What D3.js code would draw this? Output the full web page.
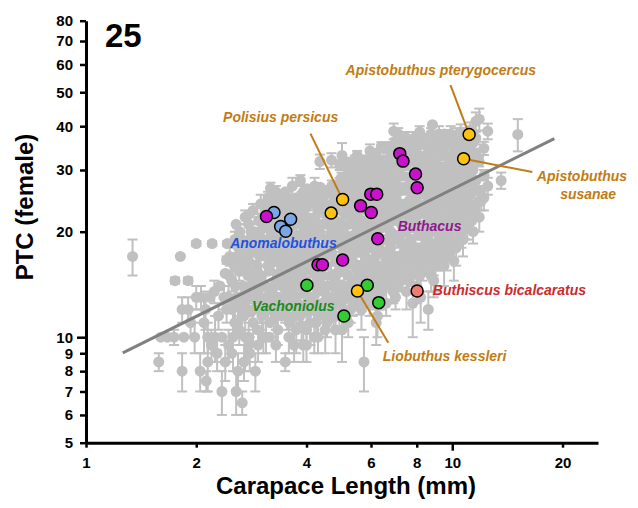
<!DOCTYPE html>
<html>
<head>
<meta charset="utf-8">
<script src="https://cdn.jsdelivr.net/npm/d3@7"></script>
<style>
  body { margin: 0; background: #fff; }
  svg { display: block; font-family: "Liberation Sans", Arial, Helvetica, sans-serif; }
</style>
</head>
<body>
<svg id="chart" width="638" height="508"></svg>
<script>
// Pectinal tooth count (females) against carapace length, log-log, Buthidae.

// Tick labels
const xTickValues = [1, 2, 4, 6, 8, 10, 20];
const yTickValues = [5, 6, 7, 8, 9, 10, 20, 30, 40, 50, 60, 70, 80];

// All other species: [carapace length (mm), mean PTC, SD of PTC]; SD 0 = single count
const otherSpecies = [
  [1.34,17,2],[1.81,17,0],[1.75,14.5,0.3],[1.9,14.5,0.3],[1.58,8.5,0.5],[1.6,10,0],[1.67,10,0],[1.74,10,0.5],
  [1.83,12,1],[1.9,12,1],[1.83,8,1],[1.85,10,0],[1.93,11,1],[1.98,10,1],[2.0,13,1],[2.0,18.5,0.3],
  [2.21,18.5,0.3],[2.43,18.5,0.3],[2.42,16.6,0.4],[2.4,15.2,0],[2.06,13,1],[2.12,12,1.5],[2.18,13,0],
  [2.24,13.5,1],[2.32,14,0],[2.38,13,1],[2.1,11,2],[2.15,10,1],[2.25,10,1.5],[2.35,10,0],[2.45,9.5,1],
  [2.2,9.5,1],[2.28,9,1],[2.15,8.5,1.5],[2.05,8,1],[2.13,7.5,0.5],[2.35,7,1],[2.4,8.5,1],[2.57,7,1],
  [2.6,8,1],[2.67,6.5,0.5],[2.5,9,0],[2.7,8.5,1],[2.8,9,1],[2.9,8,1],[2.52,10,2],[2.6,11,1],[2.72,10,2],
  [2.78,9.5,1],[2.95,9.5,1],[3.05,10,1],[3.17,10,0],[3.5,8.5,0.5],[4.0,9.5,1],[3.3,9.5,1],[2.3,11.5,1],[2.42,12,1],
  [2.45,13,1],[2.46,15,0],[2.47,17,1],
  [2.55,11,1],[2.55,12.5,0],[2.56,14,1.5],[2.54,16,0],[2.55,19,1],[2.57,21,0],
  [2.62,10.5,1],[2.63,13,0],[2.62,15.5,1],[2.61,18,0],[2.63,20,1],
  [2.7,11.5,0],[2.71,12.5,1],[2.69,14,0],[2.7,17,1],[2.72,22,1],
  [2.78,10,1],[2.79,13,1],[2.77,15,0],[2.78,16.5,0],[2.8,19,1.5],[2.78,21,0],
  [2.86,11,1.5],[2.87,12,0],[2.85,14.5,1],[2.86,18,0],[2.88,20,0],[2.86,23,1],
  [2.94,10.5,0],[2.95,13.5,1],[2.93,16,1],[2.94,17.5,0],[2.96,21.5,1],
  [3.02,11.5,1],[3.03,12.5,0],[3.01,15,1],[3.02,19,1],[3.04,22,0],[3.0,24,1.5],
  [3.1,10,1],[3.11,13,0],[3.09,14,1],[3.1,17,0],[3.12,20.5,1],[3.1,23,0],
  [3.18,11,0],[3.19,12,1],[3.17,15.5,0],[3.18,18,1],[3.2,21,0],[3.19,26.6,1],
  [3.26,12.5,1.5],[3.27,14,0],[3.25,16.5,1],[3.26,19.5,0],[3.28,22.5,1],[3.26,24.5,0],
  [3.34,10.5,1],[3.35,13,0],[3.33,15,1],[3.34,17.5,0],[3.36,20,1],[3.34,23.5,1],
  [3.42,11.5,0],[3.43,14,1],[3.41,16,0],[3.42,18.5,1],[3.44,21.5,0],[3.42,25,1],
  [3.5,12,1],[3.51,13.5,0],[3.49,15.5,1],[3.5,17,0],[3.52,19,1],[3.5,22,1],[3.5,26,0],
  [3.58,10,1],[3.59,11,0],[3.57,14.5,1],[3.58,16.5,0],[3.6,20.5,1],[3.58,24,1],
  [3.66,12.5,1],[3.67,15,0],[3.65,18,1],[3.66,19.5,0],[3.68,23,0],[3.66,27,1.5],
  [3.75,10.5,1.5],[3.76,13,1],[3.74,14,0],[3.75,16,1],[3.77,17.5,0],[3.75,21,1],[3.76,25,0],
  [3.84,11.5,0],[3.85,12,1],[3.83,15,1],[3.84,18.5,0],[3.86,22,1],[3.84,24,0],[3.85,28,1],
  [3.92,9.5,1],[3.93,13.5,1],[3.91,16.5,0],[3.92,19,1],[3.94,20.5,0],[3.92,26,1],
  [4.0,10.5,1],[4.01,12.5,0],[3.99,14.5,1],[4.0,17,1],[4.02,21.5,0],[4.0,23.5,1],[4.01,26.5,0],
  [4.1,11,1.5],[4.11,13,0],[4.09,15.5,1],[4.1,18,0],[4.12,20,1],[4.1,25,1],
  [4.2,12,1],[4.21,14,0],[4.19,16,1],[4.2,19,0],[4.22,22,1],[4.2,24,0],[4.21,27,1.5],
  [4.3,10,1],[4.31,11.5,0],[4.29,13.5,1],[4.3,17,0],[4.32,20.5,1],[4.3,23,1],[4.35,31.7,1.5],
  [4.42,12.5,1],[4.43,15,0],[4.41,18,1],[4.42,21,0],[4.44,25,1],
  [4.55,11,1],[4.56,14,1],[4.54,16,0],[4.55,19,1],[4.57,22,0],[4.55,26,1],
  [4.68,12,0],[4.69,13,1],[4.67,15,1],[4.68,17.5,0],[4.7,20,1],[4.68,24,0],[4.69,27,1],[4.68,32,1.5],
  [4.8,10.5,1.5],[4.81,12.5,1],[4.79,14.5,0],[4.8,16.5,1],[4.82,18.5,0],[4.8,21.5,1],[4.81,23,0],
  [4.92,11.5,1],[4.93,13.5,0],[4.91,15.5,1],[4.92,19,1],[4.94,25,0],[4.92,27.5,1],[4.93,31,1],
  [5.05,12,1.5],[5.06,14,1],[5.04,17,0],[5.05,20,1],[5.07,22.5,0],[5.05,26,1],[5.0,33,2.8],
  [5.2,11,1],[5.21,13,0],[5.19,15,1],[5.2,18,1],[5.22,21,0],[5.2,24,1],[5.21,28,1],[5.2,30,0],
  [5.35,12.5,1],[5.36,14.5,0],[5.34,16.5,1],[5.35,19.5,0],[5.37,23,1],[5.35,26.5,0],[5.36,31,1.5],
  [5.5,13,1],[5.51,15.5,1],[5.49,17.5,0],[5.5,20.5,1],[5.52,22,0],[5.5,25,1],[5.51,29,1],[5.5,33,1],
  [5.65,12,1.5],[5.66,14,0],[5.64,16,1],[5.65,18.5,1],[5.67,21.5,0],[5.65,24,1],[5.66,27.5,0],[5.65,30.5,1],
  [5.74,8.5,1.5],
  [5.8,13.5,1],[5.81,15,0],[5.79,17,1],[5.8,19.5,0],[5.82,23,1],[5.8,26,1],[5.81,32,1],
  [5.95,12.5,1],[5.96,14.5,1],[5.94,16.5,0],[5.95,20,1],[5.97,22,0],[5.95,28,1],[5.96,34,1.5],
  [6.1,13,1],[6.11,15.5,0],[6.09,18,1],[6.1,21,1],[6.12,24.5,0],[6.1,27,1],[6.11,30,0],
  [6.25,11.5,1.5],[6.26,14,1],[6.24,16,0],[6.25,19,1],[6.27,23,0],[6.25,25,1],[6.2,32.3,1],
  [6.4,13.5,1.5],[6.41,15,1],[6.39,17.5,0],[6.4,20.5,1],[6.42,22.5,0],[6.4,26.5,1],[6.41,29,1],[6.4,35,1],
  [6.6,12.5,1],[6.61,14.5,0],[6.59,16.5,1],[6.6,19,1],[6.62,21.5,0],[6.6,24,1],[6.61,28,0],[6.6,31,1],
  [6.8,14,1.5],[6.81,16,0],[6.79,18,1],[6.8,20,0],[6.82,23,1],[6.8,26,1],[6.81,30,0],[6.8,33,1],
  [6.92,38.7,2],
  [7.0,13,1],[7.01,15,1],[6.99,17,0],[7.0,22,1],[7.02,25,0],[7.0,27.5,1],[7.01,32,1],[7.0,36,1],
  [7.25,14.5,1],[7.26,16.5,0],[7.24,18.5,1],[7.25,21,1],[7.27,24,0],[7.25,29,1],[7.26,34,1],
  [7.5,13.5,1.5],[7.51,15.5,1],[7.49,17.5,0],[7.5,20,1],[7.52,23,1],[7.5,26.5,0],[7.51,31,1],[7.5,37,1.5],
  [7.75,15,1],[7.76,17,1],[7.74,19,0],[7.75,22,1],[7.77,25,1],[7.75,28,0],[7.76,33,1],
  [7.8,12.5,2.5],
  [8.0,14,1.5],[8.01,16,1],[7.99,18,0],[8.0,21,1],[8.02,24,0],[8.0,30,1],[8.01,35,1.5],
  [8.2,13,2],
  [8.3,15.5,1],[8.31,17.5,1],[8.29,20,0],[8.3,23,1],[8.32,26,1],[8.3,29,0],[8.31,32,1],[8.3,37,1],
  [8.6,12,1.5],[8.61,16.5,1],[8.59,19,1],[8.6,22,0],[8.62,25,1],[8.6,28,1],[8.61,34,1.5],
  [8.83,40.4,0],
  [8.9,16,1],[8.91,18,0],[8.89,21,1],[8.9,24,1],[8.92,27,0],[8.9,31,1],[8.91,36,1],[8.9,14.5,1.5],
  [9.0,16.5,3],
  [9.2,17,1.5],[9.21,19.5,1],[9.19,23,0],[9.2,26,1],[9.22,29.5,1],[9.2,33,1],[9.2,38,2],
  [9.5,16,2],[9.51,18.5,1],[9.49,21.5,1],[9.5,25,0],[9.52,28,1],[9.5,35,1.5],[9.51,38,1],
  [9.8,17.5,1],[9.81,20,1],[9.79,23.5,1],[9.8,27,0],[9.82,30,1],[9.8,32,1],[9.9,38,2],
  [10.1,16.5,2],[10.11,19,1],[10.09,22,1],[10.1,25.5,1],[10.12,29,0],[10.1,34,1],[10.2,35,3],
  [10.4,20.5,1.5],[10.41,24,1],[10.39,27,1],[10.4,31,1],[10.42,36,1.5],
  [10.6,20,2],[10.7,19,2],[10.71,22.5,1],[10.69,26,1],[10.7,29,1],[10.72,35,1],[10.9,36,2.5],
  [11.0,21,2],[11.01,24.5,1],[10.99,28,1],[11.0,33,1],[11.02,38,1.5],
  [11.3,21.5,1],[11.4,20,1.5],[11.41,23,1],[11.39,27,1],[11.4,30,1.5],[11.42,36,2],
  [11.6,41.3,2.5],[11.85,22,2],[11.86,26,1],[11.84,31.7,1],[11.85,41.9,3],[12.0,24.5,1.5],
  [12.2,25,2],[12.21,29,1],[12.2,34.6,1.5],[12.5,27,1.5],[12.5,38.7,2],[13.6,28,1.5],[15.1,37.9,4],
  [2.75,22.1,0],[4.5,10.5,1.5],[5.0,10.5,2],[6.2,11,1.5],[4.2,10,1],[3.7,9.5,1],
  // mid-sized species, 2.5-4 mm
  [2.5,12,0],[2.5,14.5,1],[2.58,13,1],[2.58,17,0],[2.66,12,0],[2.66,16,1],[2.66,19,0],
  [2.74,13.2,1],[2.74,15.8,0],[2.74,18.2,1],[2.82,11.8,0],[2.82,14,1],[2.82,17.5,0],[2.82,20,1],
  [2.9,13,0],[2.9,15.5,1],[2.9,19.2,0],[2.98,12,1],[2.98,14.5,0],[2.98,17,1],[2.98,20,0],
  [3.06,14,0],[3.06,17.8,1],[3.06,21,0],[3.14,12,1],[3.14,16,0],[3.14,19,1],[3.14,25,1],
  [3.22,13.5,0],[3.22,17,1],[3.22,20,0],[3.22,22,1],[3.22,24,0],
  [3.3,11.5,1],[3.3,14.5,0],[3.3,18.8,1],[3.3,21,0],[3.3,26,1],
  [3.38,12.2,0],[3.38,16.5,1],[3.38,19,0],[3.38,22.2,1],
  [3.46,13,1],[3.46,15,0],[3.46,20.2,1],[3.46,23,0],
  [3.54,11.5,1],[3.54,14,0],[3.54,18,1],[3.54,21,0],[3.54,25,1],
  [3.62,13.2,0],[3.62,16,1],[3.62,19,0],[3.62,22.5,1],
  [3.7,11.5,1],[3.7,14,0],[3.7,17,1],[3.7,21.5,0],[3.7,24.5,1],
  [3.8,12.4,0],[3.8,15.5,1],[3.8,19.5,0],[3.8,23,1],
  [3.88,10.8,1],[3.88,14.2,0],[3.88,17.2,1],[3.88,21,0],[3.88,25,1],
  [3.96,12,0],[3.96,15.5,1],[3.96,18.2,0],[3.96,22.2,1],
  // mid-sized species, 4-6 mm
  [4.05,11.8,1],[4.05,15.8,0],[4.05,19.8,1],[4.05,24.8,0],
  [4.15,12.6,0],[4.15,16.8,1],[4.15,21,0],
  [4.25,11,1],[4.25,15,0],[4.25,18,1],[4.25,25.5,0],
  [4.36,12.2,0],[4.36,14.2,1],[4.36,19.8,0],[4.36,23.8,1],[4.36,26.8,0],
  [4.48,11.5,1],[4.48,13.5,0],[4.48,16.8,1],[4.48,22.8,0],
  [4.62,12.8,0],[4.62,17.8,1],[4.62,20.8,0],[4.62,23.2,1],
  [4.74,11.4,1],[4.74,14,0],[4.74,19,1],[4.74,25.5,0],
  [4.86,13,0],[4.86,15.2,1],[4.86,20.2,0],[4.86,24.2,1],[4.86,26.8,0],
  [4.98,12.6,1],[4.98,16.8,0],[4.98,18.2,1],[4.98,21.2,0],[4.98,28.5,1],
  [5.12,13.2,0],[5.12,16,1],[5.12,19.2,0],[5.12,23.2,1],[5.12,27.2,0],[5.12,31.5,1],
  [5.28,12,1],[5.28,14,0],[5.28,17.2,1],[5.28,22,0],[5.28,25.2,1],[5.28,29.5,0],
  [5.42,13.5,0],[5.42,16,1],[5.42,18.5,0],[5.42,21.5,1],[5.42,27.8,0],[5.42,32,1],
  [5.58,12.6,1],[5.58,14.5,0],[5.58,19.2,1],[5.58,23.5,0],[5.58,26.5,1],[5.58,31,0],
  [5.72,13,0],[5.72,15.5,1],[5.72,17.8,0],[5.72,20.5,1],[5.72,25,0],[5.72,29,1],
  [5.88,14,1],[5.88,16,0],[5.88,18.5,1],[5.88,21.2,0],[5.88,24.5,1],[5.88,27,0],[5.88,30,1],
  // large species, 6-12 mm
  [6.02,13.5,0],[6.02,15.8,1],[6.02,19,0],[6.02,23.5,1],[6.02,26.5,0],[6.02,31.5,1],
  [6.18,14.5,1],[6.18,17,0],[6.18,20,1],[6.18,22,0],[6.18,28.5,1],[6.18,33.5,0],
  [6.32,13,1],[6.32,15.5,0],[6.32,18,1],[6.32,21.5,0],[6.32,24,1],[6.32,27.5,0],[6.32,30.5,1],
  [6.5,14,0],[6.5,16,1],[6.5,19,0],[6.5,23.5,1],[6.5,25.5,0],[6.5,32,1],[6.5,34.5,0],
  [6.7,15,1],[6.7,17.5,0],[6.7,20.5,1],[6.7,22.5,0],[6.7,26.5,1],[6.7,29.5,0],[6.7,35,1],
  [6.9,13.5,1],[6.9,16.5,0],[6.9,19,1],[6.9,21.5,0],[6.9,24.5,1],[6.9,28,0],[6.9,31.5,1],
  [7.12,14,0],[7.12,16,1],[7.12,19.5,0],[7.12,23.5,1],[7.12,26,0],[7.12,30,1],[7.12,34.5,0],[7.12,38,1.5],
  [7.38,15.5,1],[7.38,17.5,0],[7.38,20,1],[7.38,22.5,0],[7.38,26.5,1],[7.38,31,0],[7.38,36,1],
  [7.62,14.5,0],[7.62,16.5,1],[7.62,18.5,0],[7.62,21.5,1],[7.62,24.5,0],[7.62,28.5,1],[7.62,33.5,0],[7.62,35.5,1],
  [7.88,16,1],[7.88,18,0],[7.88,20.5,1],[7.88,23.5,0],[7.88,27,1],[7.88,31.5,0],[7.88,37,1.5],
  [8.15,15,0],[8.15,17,1],[8.15,19.5,0],[8.15,22.5,1],[8.15,25.5,0],[8.15,28,1],[8.15,33,0],[8.15,38.5,1.5],
  [8.45,16,1],[8.45,18.5,0],[8.45,21,1],[8.45,24,0],[8.45,27,1],[8.45,30.5,0],[8.45,35.5,1],
  [8.75,15,1.5],[8.75,17.5,0],[8.75,20,1],[8.75,23,0],[8.75,26,1],[8.75,29.5,0],[8.75,32.5,1],[8.75,38,1.5],
  [9.05,16.5,1],[9.05,18.5,0],[9.05,22,1],[9.05,25,0],[9.05,28,1],[9.05,31.5,0],[9.05,35,1],
  [9.35,18,1.5],[9.35,20.5,0],[9.35,24,1],[9.35,27,0],[9.35,30.5,1],[9.35,34,0],[9.35,36.5,1.5],
  [9.65,17,1.5],[9.65,19.5,0],[9.65,22.5,1],[9.65,26,0],[9.65,29,1],[9.65,33,0],[9.65,37,1.5],
  [9.95,18.5,1],[9.95,21,0],[9.95,24.5,1],[9.95,28,0],[9.95,31,1],[9.95,36,1],
  [10.25,18,2],[10.25,21.5,0],[10.25,23,1],[10.25,26.5,0],[10.25,30,1],[10.25,33,0],[10.25,37.5,2],
  [10.55,21.5,1],[10.55,25,0],[10.55,28,1],[10.55,32.5,0],[10.55,38.5,2],
  [10.85,20.5,1.5],[10.85,23.5,0],[10.85,27,1],[10.85,30.5,0],[10.85,34,1],
  [11.2,22.5,1.5],[11.2,25.5,0],[11.2,29,1],[11.2,32,0],[11.2,35,1],[11.2,39,2],
  [11.6,24,1],[11.6,28,0],[11.6,33.5,1],[11.6,37,1.5]
];

// Highlighted genera and species: [carapace length (mm), mean PTC]
const anomalobuthus = [[3.26,22.7],[3.62,21.7],[3.40,20.7],[3.51,20.05]];
const buthacus = [[3.11,22.1],[5.62,23.7],[6.01,22.7],[5.99,25.6],[6.22,25.6],[6.26,19.1],[4.30,16.1],
                  [4.42,16.1],[5.02,16.6],[7.19,33.4],[7.34,31.8],[7.94,29.2],[8.02,26.7]];
const vachoniolus = [[4.01,14.06],[5.86,14.06],[6.30,12.55],[5.06,11.5]];
const polisiusPersicus = [[5.02,24.7],[4.67,22.6]];
const apistobuthusPterygocercus = [[11.12,37.9]];
const apistobuthusSusanae = [[10.74,32.3]];
const liobuthusKessleri = [[5.51,13.55]];
const buthiscusBicalcaratus = [[8.02,13.55]];

// Fitted power law PTC = a * CL^b over the observed size range
const fitA = 8.0, fitB = 0.519, fitRange = [1.26, 19];

const svg = d3.select("#chart");
const x = d3.scaleLog().domain([1, 25]).range([86, 598]);
const y = d3.scaleLog().domain([5, 80]).range([442.7, 20.7]);

const GRAY = "#c0c0c0";

// Error bars for the other species
const bars = svg.append("g").attr("stroke", GRAY).attr("stroke-width", 2).attr("fill", "none");
otherSpecies.filter(d => d[2] > 0).forEach(d => {
  const cx = x(d[0]), top = y(d[1] + d[2]), bot = y(d[1] - d[2]);
  bars.append("line").attr("x1", cx).attr("x2", cx).attr("y1", top).attr("y2", bot);
  bars.append("line").attr("x1", cx - 5).attr("x2", cx + 5).attr("y1", top).attr("y2", top);
  bars.append("line").attr("x1", cx - 5).attr("x2", cx + 5).attr("y1", bot).attr("y2", bot);
});

svg.append("g").selectAll("circle").data(otherSpecies).join("circle")
  .attr("cx", d => x(d[0])).attr("cy", d => y(d[1])).attr("r", 5.5).attr("fill", GRAY);

// Regression line
const fitLine = d3.line().x(d => x(d)).y(d => y(fitA * Math.pow(d, fitB)));
svg.append("path").attr("d", fitLine(fitRange))
  .attr("stroke", "#808080").attr("stroke-width", 3).attr("fill", "none");

// Leader lines and labels
const ORANGE = "#c27c14";
const leaders = [
  { from: [4.10, 38.1], to: polisiusPersicus[0] },
  { from: [9.89, 52.4], to: apistobuthusPterygocercus[0] },
  { from: [16.55, 29.6], to: apistobuthusSusanae[0] },
  { from: [6.69, 9.64], to: liobuthusKessleri[0] }
];
svg.append("g").selectAll("line").data(leaders).join("line")
  .attr("x1", d => x(d.from[0])).attr("y1", d => y(d.from[1]))
  .attr("x2", d => x(d.to[0])).attr("y2", d => y(d.to[1]))
  .attr("stroke", ORANGE).attr("stroke-width", 2);

// Highlighted points
const groups = [
  { pts: anomalobuthus, fill: "#7ba7e6" },
  { pts: buthacus, fill: "#cc11cc" },
  { pts: vachoniolus, fill: "#33cc33" },
  { pts: polisiusPersicus, fill: "#ffc20e" },
  { pts: apistobuthusPterygocercus, fill: "#ffc20e" },
  { pts: apistobuthusSusanae, fill: "#ffc20e" },
  { pts: liobuthusKessleri, fill: "#ffc20e" },
  { pts: buthiscusBicalcaratus, fill: "#f07a72" }
];
groups.forEach(gp => {
  svg.append("g").selectAll("circle").data(gp.pts).join("circle")
    .attr("cx", d => x(d[0])).attr("cy", d => y(d[1])).attr("r", 6)
    .attr("fill", gp.fill).attr("stroke", "#000").attr("stroke-width", 1.5);
});

const labels = [
  { text: "Polisius persicus", at: [3.40, 42.4], color: ORANGE, anchor: "middle" },
  { text: "Apistobuthus pterygocercus", at: [9.31, 57.8], color: ORANGE, anchor: "middle" },
  { text: "Apistobuthus", at: [22.6, 28.9], color: ORANGE, anchor: "middle" },
  { text: "susanae", at: [23.5, 25.65], color: ORANGE, anchor: "middle" },
  { text: "Anomalobuthus", at: [3.46, 18.56], color: "#1f52e0", anchor: "middle" },
  { text: "Buthacus", at: [8.67, 20.7], color: "#8e1a8e", anchor: "middle" },
  { text: "Vachoniolus", at: [3.68, 12.27], color: "#1a8a1a", anchor: "middle" },
  { text: "Buthiscus bicalcaratus", at: [8.85, 13.64], color: "#cc2b2b", anchor: "start" },
  { text: "Liobuthus kessleri", at: [9.53, 8.82], color: ORANGE, anchor: "middle" }
];
svg.append("g").selectAll("text").data(labels).join("text")
  .attr("x", d => x(d.at[0])).attr("y", d => y(d.at[1])).attr("dy", "0.35em")
  .attr("text-anchor", d => d.anchor).attr("fill", d => d.color)
  .attr("font-size", 14).attr("font-weight", "bold").attr("font-style", "italic")
  .text(d => d.text);

// Axes
const xAxis = svg.append("g").attr("transform", "translate(0,442.7)")
  .call(d3.axisBottom(x).tickValues(xTickValues).tickFormat(d3.format("d")).tickSizeOuter(0));
const yAxis = svg.append("g").attr("transform", "translate(86,0)")
  .call(d3.axisLeft(y).tickValues(yTickValues).tickFormat(d3.format("d")).tickSizeOuter(0));

[xAxis, yAxis].forEach(a => {
  a.select(".domain").attr("stroke", "#000").attr("stroke-width", 3);
  a.selectAll(".tick line").attr("stroke", "#000").attr("stroke-width", 2.5);
  a.selectAll(".tick text").attr("fill", "#000").attr("font-size", 15).attr("font-weight", "bold")
    .attr("font-family", "Liberation Sans, Arial, sans-serif");
});
xAxis.selectAll(".tick line").attr("y2", d => d === 10 ? 8 : 5);
xAxis.selectAll(".tick text").attr("y", 15);
yAxis.selectAll(".tick line").attr("x2", d => d === 10 ? -9 : -6);
yAxis.selectAll(".tick text").attr("x", -13);

// Titles
svg.append("text").attr("transform", "translate(33,207) rotate(-90)")
  .attr("text-anchor", "middle").attr("font-size", 24).attr("font-weight", "bold")
  .text("PTC (female)");
svg.append("text").attr("x", 346).attr("y", 494)
  .attr("text-anchor", "middle").attr("font-size", 24).attr("font-weight", "bold")
  .text("Carapace Length (mm)");
svg.append("text").attr("x", 105).attr("y", 47)
  .attr("font-size", 33).attr("font-weight", "bold").text("25");
</script>
</body>
</html>
